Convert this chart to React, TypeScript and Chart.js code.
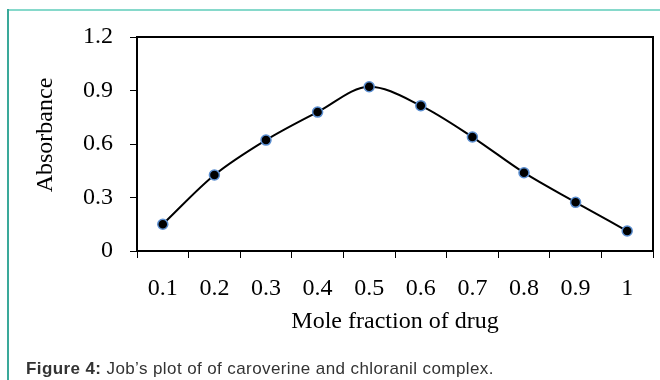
import React, { useEffect, useRef } from "react";
import { Chart, registerables } from "chart.js";

Chart.register(...registerables);

const categories = ["0.1", "0.2", "0.3", "0.4", "0.5", "0.6", "0.7", "0.8", "0.9", "1"];
const absorbance = [0.15, 0.426, 0.622, 0.779, 0.921, 0.815, 0.639, 0.439, 0.273, 0.112];
const yTicks = [0, 0.3, 0.6, 0.9, 1.2];

const framePlugin = {
  id: "frame",
  afterDraw(chart: any) {
    const { ctx, chartArea } = chart;
    ctx.save();
    ctx.strokeStyle = "#000";
    ctx.lineWidth = 2;
    ctx.strokeRect(chartArea.left, chartArea.top, chartArea.right - chartArea.left, chartArea.bottom - chartArea.top);
    ctx.restore();
  },
};

export default function App() {
  const ref = useRef<HTMLCanvasElement>(null);
  useEffect(() => {
    if (!ref.current) return;
    const serif = "'Liberation Serif', 'Times New Roman', serif";
    const chart = new Chart(ref.current, {
      type: "line",
      data: {
        labels: categories,
        datasets: [
          {
            data: absorbance,
            borderColor: "#000",
            borderWidth: 2,
            tension: 0.4,
            cubicInterpolationMode: "monotone",
            pointRadius: 5,
            pointBackgroundColor: "#000",
            pointBorderColor: "#5b8ed0",
            pointBorderWidth: 1.5,
          },
        ],
      },
      options: {
        animation: false,
        responsive: false,
        maintainAspectRatio: false,
        layout: { padding: { left: 20, top: 37, right: 7, bottom: 29 } },
        plugins: { legend: { display: false }, tooltip: { enabled: false } },
        scales: {
          x: {
            type: "category",
            offset: true,
            grid: { offset: true, drawOnChartArea: false, drawTicks: true, tickLength: 7, color: "#000", lineWidth: 1 },
            border: { display: true, color: "#000", width: 2 },
            ticks: { color: "#000", font: { family: serif, size: 24 }, padding: 16, maxRotation: 0, autoSkip: false },
            title: { display: true, text: "Mole fraction of drug", color: "#000", font: { family: serif, size: 24 }, padding: { top: 0, bottom: 15 } },
            afterFit: (s: any) => { s.height = 100; },
          },
          y: {
            min: 0,
            max: 1.2,
            afterBuildTicks: (s: any) => { s.ticks = yTicks.map((v) => ({ value: v })); },
            grid: { drawOnChartArea: false, drawTicks: true, tickLength: 7, color: "#000", lineWidth: 1 },
            border: { display: true, color: "#000", width: 2 },
            ticks: { color: "#000", font: { family: serif, size: 24 }, padding: 17, callback: (v: any) => String(Number(v)) },
            title: { display: true, text: "   Absorbance", color: "#000", font: { family: serif, size: 24 }, padding: { top: 11, bottom: 0 } },
            afterFit: (s: any) => { s.width = 117; },
          },
        },
      },
      plugins: [framePlugin],
    } as any);
    return () => chart.destroy();
  }, []);

  return (
    <div style={{ position: "fixed", left: 0, top: 0, width: 660, height: 380, background: "#fff", overflow: "hidden" }}>
      <div style={{ position: "absolute", left: 7, top: 9, width: 653, height: 2, background: "#86d9cb" }} />
      <div style={{ position: "absolute", left: 7, top: 9, width: 2, height: 371, background: "#3aa99a" }} />
      <canvas ref={ref} width={660} height={380} style={{ position: "absolute", left: 0, top: 0 }} />
      <div
        style={{
          position: "absolute",
          left: 26,
          top: 359,
          fontFamily: "'Liberation Sans', Arial, sans-serif",
          fontSize: 17,
          letterSpacing: "0.4px",
          color: "#333",
          whiteSpace: "nowrap",
          lineHeight: "20px",
        }}
      >
        <b>Figure 4:</b> Job’s plot of of caroverine and chloranil complex.
      </div>
    </div>
  );
}
